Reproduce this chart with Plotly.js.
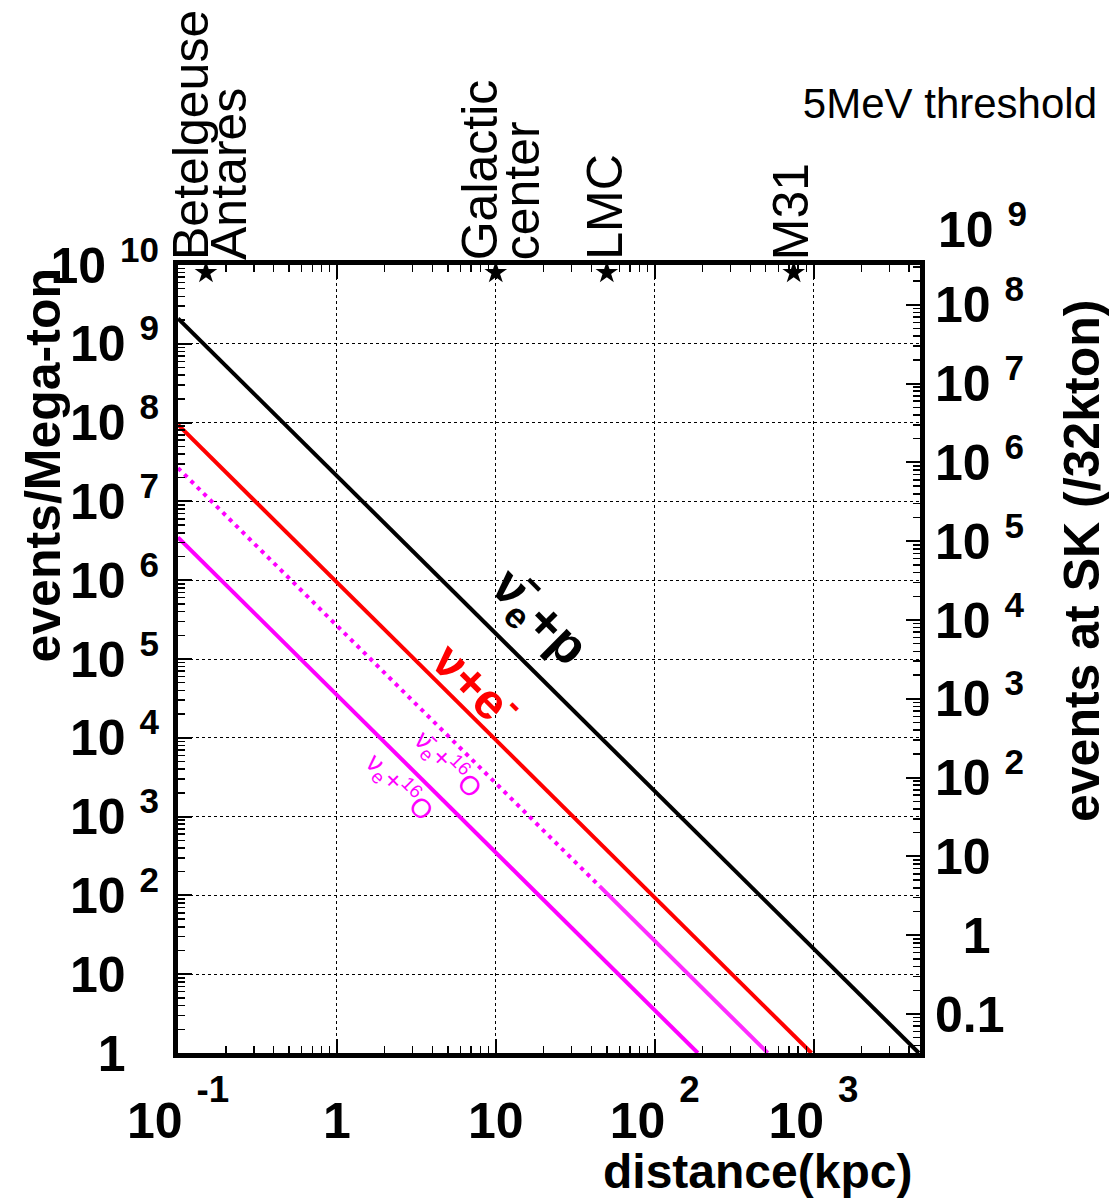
<!DOCTYPE html>
<html><head><meta charset="utf-8">
<script src="https://cdn.plot.ly/plotly-3.0.1.min.js"></script>
<style>html,body{margin:0;padding:0;background:#fff}</style>
</head><body>
<div id="chart" style="width:1110px;height:1198px"></div>
<script>
// ---- data ----
const distBarNuP = [0.1, 4600];          // anti-nu_e + p
const evtBarNuP  = [2.1e9, 1];
const distNuE    = [0.1, 970];           // nu + e-
const evtNuE     = [9.4e7, 1];
const distBarNuO_dot   = [0.1, 45];      // anti-nu_e + 16O (dotted part)
const evtBarNuO_dot    = [2.65e7, 131];
const distBarNuO_solid = [45, 515];      // anti-nu_e + 16O (dense part)
const evtBarNuO_solid  = [131, 1];
const distNuO    = [0.1, 187];           // nu_e + 16O
const evtNuO     = [3.5e6, 1];

const objectNames = ['Betelgeuse', 'Antares', 'Galactic', 'center', 'LMC', 'M31'];
const objectDist  = [0.15, 10, 50, 750];
const objectEvt   = [8e9, 8e9, 8e9, 8e9];

const xTickVals = [0.1, 1, 10, 100, 1000];
const xTickBase = ['10', '1', '10', '10', '10'];
const xTickExp  = ['-1', '', '', '2', '3'];
const yTickVals = [1, 10, 1e2, 1e3, 1e4, 1e5, 1e6, 1e7, 1e8, 1e9, 1e10];
const yTickBase = ['1', '10', '10', '10', '10', '10', '10', '10', '10', '10', '10'];
const yTickExp  = ['', '', '2', '3', '4', '5', '6', '7', '8', '9', '10'];
const skTickVals = [0.1, 1, 10, 1e2, 1e3, 1e4, 1e5, 1e6, 1e7, 1e8];
const skTickBase = ['0.1', '1', '10', '10', '10', '10', '10', '10', '10', '10'];
const skTickExp  = ['', '', '', '2', '3', '4', '5', '6', '7', '8'];
const skExtraLabel = {val: 1e9, base: '10', exp: '9'};
const skPerMton = 0.032;   // 32 kton / 1 Mton

// ---- styling ----
const FONT = 'Liberation Sans, Arial, Helvetica, sans-serif';
const HID = '<span style="color:rgba(0,0,0,0)">0</span>';
const W = 1110, H = 1198, ML = 178, MR = 190, MT = 265, MB = 145;
const PW = W - ML - MR, PH = H - MT - MB;
const px2x = p => (p - ML) / PW;
const px2y = p => (H - MB - p) / PH;

const yRange = [0, 10];
const xRange = [-1, 3.67];
const y2Range = [yRange[0] + Math.log10(skPerMton), yRange[1] + Math.log10(skPerMton)];

const xTickText = xTickBase.map((b, i) =>
  '<b>' + (xTickExp[i] ? b + ' <sup><sup><span style="font-size:150%">' + xTickExp[i] + '</span></sup></sup>' : b) + '</b>');
const yTickText = yTickBase.map((b, i) =>
  '<b>' + (yTickExp[i] ? b + ' <sup>' + yTickExp[i] + '</sup>' : b + ' <sup>' + HID + '</sup>') + '</b>');
const skTickText = skTickBase.map((b, i) =>
  '<b>' + (skTickExp[i] ? b + ' <sup>' + skTickExp[i] + '</sup>' : (b === '1' ? HID + b : b)) + '</b>');

const traces = [
  {x: distBarNuP, y: evtBarNuP, mode: 'lines', line: {color: '#000000', width: 4}, hoverinfo: 'skip'},
  {x: distNuE, y: evtNuE, mode: 'lines', line: {color: '#ff0000', width: 4}, hoverinfo: 'skip'},
  {x: distBarNuO_dot, y: evtBarNuO_dot, mode: 'lines', line: {color: '#ff00ff', width: 4, dash: '4px,5px'}, hoverinfo: 'skip'},
  {x: distBarNuO_solid, y: evtBarNuO_solid, mode: 'lines', line: {color: '#ff2bff', width: 4}, hoverinfo: 'skip'},
  {x: distNuO, y: evtNuO, mode: 'lines', line: {color: '#ff00ff', width: 4}, hoverinfo: 'skip'},
  {x: objectDist, y: objectEvt, mode: 'markers', cliponaxis: false,
   marker: {symbol: 'star', size: 17, color: '#000000', line: {width: 0}}, hoverinfo: 'skip'},
  {x: [1], y: [skPerMton], yaxis: 'y2', mode: 'markers', marker: {opacity: 0}, hoverinfo: 'skip'}
];

const tickFont = {family: FONT, size: 50, color: '#000'};
const commonAxis = {
  type: 'log', showline: true, linecolor: '#000', linewidth: 5,
  ticks: 'inside', ticklen: 14, tickwidth: 2, tickcolor: '#000',
  showgrid: true, gridcolor: '#000', gridwidth: 1, griddash: 'dot',
  zeroline: false, tickfont: tickFont, tickmode: 'array',
  minor: {ticks: 'inside', ticklen: 7, tickwidth: 1.5, tickcolor: '#000', dtick: 'D1', showgrid: false}
};

const topLabel = (text, d, shift) => ({
  text: text, xref: 'x', yref: 'paper', x: Math.log10(d), y: 1,
  xanchor: 'center', yanchor: 'bottom', xshift: shift, yshift: 3, textangle: -90,
  showarrow: false, font: {family: FONT, size: 50, color: '#000'}
});

const skPaperY = v => (Math.log10(v) - y2Range[0]) / (y2Range[1] - y2Range[0]);

const annotations = [
  topLabel(objectNames[0], objectDist[0], -15),
  topLabel(objectNames[1], objectDist[0], 23),
  topLabel(objectNames[2], objectDist[1], -16),
  topLabel(objectNames[3], objectDist[1], 26),
  topLabel(objectNames[4], objectDist[2], -2),
  topLabel(objectNames[5], objectDist[3], -3),
  // curve labels
  {text: '<b>ν\u0304<sub>e</sub>+p</b>', xref: 'x', yref: 'y', x: Math.log10(18.4), y: Math.log10(3.2e5),
   textangle: 45, showarrow: false, font: {family: FONT, size: 52, color: '#000'}},
  {text: '<b>ν+e<sup>-</sup></b>', xref: 'x', yref: 'y', x: Math.log10(7.7), y: Math.log10(5.0e4),
   textangle: 45, showarrow: false, font: {family: FONT, size: 50, color: '#ff0000'}},
  {text: 'ν\u0304<sub>e</sub>+<sup>16</sup>O', xref: 'x', yref: 'y', x: Math.log10(5.0), y: Math.log10(4.6e3),
   textangle: 45, showarrow: false, font: {family: FONT, size: 27, color: '#ff00ff'}},
  {text: 'ν<sub>e</sub>+<sup>16</sup>O', xref: 'x', yref: 'y', x: Math.log10(2.5), y: Math.log10(2.4e3),
   textangle: 45, showarrow: false, font: {family: FONT, size: 27, color: '#ff00ff'}},
  // right axis label beyond the frame
  {text: '<b>' + skExtraLabel.base + ' <sup>' + skExtraLabel.exp + '</sup></b>', xref: 'paper', yref: 'paper',
   x: px2x(936), y: skPaperY(skExtraLabel.val), xanchor: 'left', yanchor: 'middle',
   showarrow: false, font: tickFont},
  // axis titles (ROOT style: aligned to the axis end)
  {text: '<b>events/Mega-ton</b>', xref: 'paper', yref: 'paper', x: px2x(42), y: px2y(266),
   xanchor: 'center', yanchor: 'top', textangle: -90, showarrow: false,
   font: {family: FONT, size: 50, color: '#000'}},
  {text: '<b>events at SK (/32kton)</b>', xref: 'paper', yref: 'paper', x: px2x(1082), y: px2y(298),
   xanchor: 'center', yanchor: 'top', textangle: -90, showarrow: false,
   font: {family: FONT, size: 50, color: '#000'}},
  {text: '<b>distance(kpc)</b>', xref: 'paper', yref: 'paper', x: px2x(914), y: px2y(1171),
   xanchor: 'right', yanchor: 'middle', showarrow: false,
   font: {family: FONT, size: 48, color: '#000'}}
];

const layout = {
  width: W, height: H,
  margin: {l: ML, r: MR, t: MT, b: MB, pad: 0},
  paper_bgcolor: '#fff', plot_bgcolor: '#fff',
  showlegend: false,
  title: {text: '5MeV threshold', font: {family: FONT, size: 42, color: '#000'},
          xref: 'container', yref: 'container', x: 1097 / W, xanchor: 'right',
          y: 1 - 103 / H, yanchor: 'middle'},
  xaxis: Object.assign({}, commonAxis, {
    range: xRange, tickvals: xTickVals, ticktext: xTickText, mirror: 'ticks',
    ticklabelstandoff: 20
  }),
  yaxis: Object.assign({}, commonAxis, {
    range: yRange, tickvals: yTickVals, ticktext: yTickText, mirror: true,
    ticklabelstandoff: 4
  }),
  yaxis2: Object.assign({}, commonAxis, {
    overlaying: 'y', side: 'right', range: y2Range,
    tickvals: skTickVals, ticktext: skTickText,
    showgrid: false, showline: false, ticklabelstandoff: 14
  }),
  annotations: annotations
};

Plotly.newPlot('chart', traces, layout, {displayModeBar: false, staticPlot: true});
</script>
</body></html>
